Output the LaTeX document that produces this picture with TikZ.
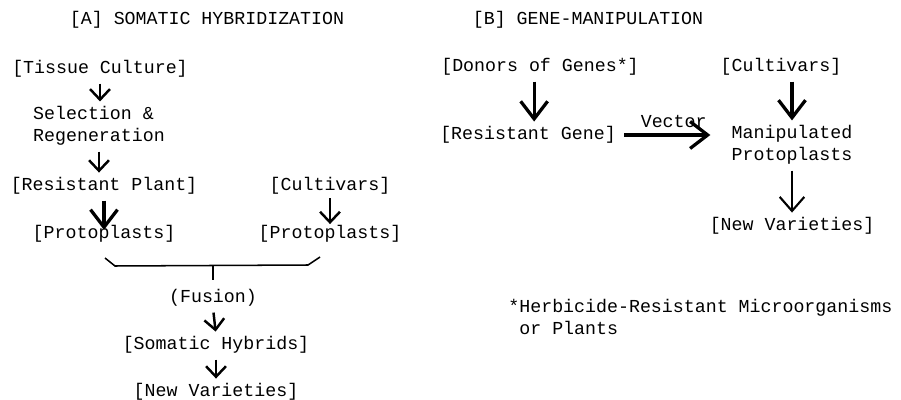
\documentclass[tikz,border=0pt]{standalone}
\usepackage{fontspec}
\setmainfont{Liberation Mono}
\usetikzlibrary{arrows.meta}

\tikzset{
  lbl/.style={font=\fontsize{15.6}{19}\selectfont, inner sep=1pt},
  arr/.style={-{Straight Barb[length=9pt,width=17pt]}, line width=2.1pt, shorten <=4pt, shorten >=3pt},
  marr/.style={-{Straight Barb[length=12pt,width=21pt]}, line width=1.8pt, shorten <=4pt, shorten >=3pt},
  barr/.style={-{Straight Barb[length=15pt,width=23pt]}, line width=2.8pt, shorten <=4pt, shorten >=3pt},
  fuse/.style={line width=1.3pt},
}

\begin{document}
\begin{tikzpicture}[x=0.03cm, y=-0.03cm]
\useasboundingbox (0,0) rectangle (901,400);
% [A] somatic hybridization
\node[lbl] (titleA) at (207,20) {[A] SOMATIC HYBRIDIZATION};
\node[lbl] (tc) at (100,69) {[Tissue Culture]};
\node[lbl, align=left] (sel) at (99,126) {Selection \&\\Regeneration};
\node[lbl] (rp) at (104,186) {[Resistant Plant]};
\node[lbl] (pl) at (104,234) {[Protoplasts]};
\node[lbl] (cv) at (330,186) {[Cultivars]};
\node[lbl] (pr) at (330,234) {[Protoplasts]};
\node[lbl] (fus) at (213,298) {(Fusion)};
\node[lbl] (sh) at (216,345) {[Somatic Hybrids]};
\node[lbl] (nv) at (216,392) {[New Varieties]};
\draw[arr] (tc.south) -- (tc.south |- sel.north);
\draw[arr] (sel.south) -- (sel.south |- rp.north);
\draw[barr, shorten >=-5pt] (rp.south) -- (pl.north);
\draw[arr, shorten <=2pt, shorten >=0pt] (cv.south) -- (pr.north);
% fusion brace
\coordinate (bl) at (105,258);
\coordinate (br) at (320,257);
\coordinate (jn) at (213,265.5);
\draw[fuse] (bl) -- ++(10,8) -- ++(193,-1) -- (br);
\draw[fuse, shorten >=7pt] (jn) -- (fus.north);
\draw[arr] (fus.south) -- (sh.north);
\draw[arr] (sh.south) -- (nv.north);
% [B] gene-manipulation
\node[lbl] (titleB) at (588,20) {[B] GENE-MANIPULATION};
\node[lbl] (dg) at (540,67) {[Donors of Genes*]};
\node[lbl] (rg) at (528,135) {[Resistant Gene]};
\node[lbl] (cv2) at (781,67) {[Cultivars]};
\node[lbl, align=center] (mp) at (792,145) {Manipulated\\Protoplasts};
\node[lbl] (nv2) at (792,226) {[New Varieties]};
\draw[barr] ([xshift=-5pt]dg.south) -- ([xshift=-5pt]dg.south |- rg.north);
\draw[barr, shorten <=6pt, shorten >=17pt] (rg.east) -- (mp.west |- rg.east)
  node[lbl, midway, above=4pt] (vec) {Vector};
\draw[barr] (cv2.south -| mp) -- (mp.north);
\draw[marr] (mp.south) -- (nv2.north);
% footnote
\node[lbl, align=left, anchor=west] (note) at (507,317) {*Herbicide-Resistant Microorganisms\\\phantom{*}or Plants};
\end{tikzpicture}
\end{document}
